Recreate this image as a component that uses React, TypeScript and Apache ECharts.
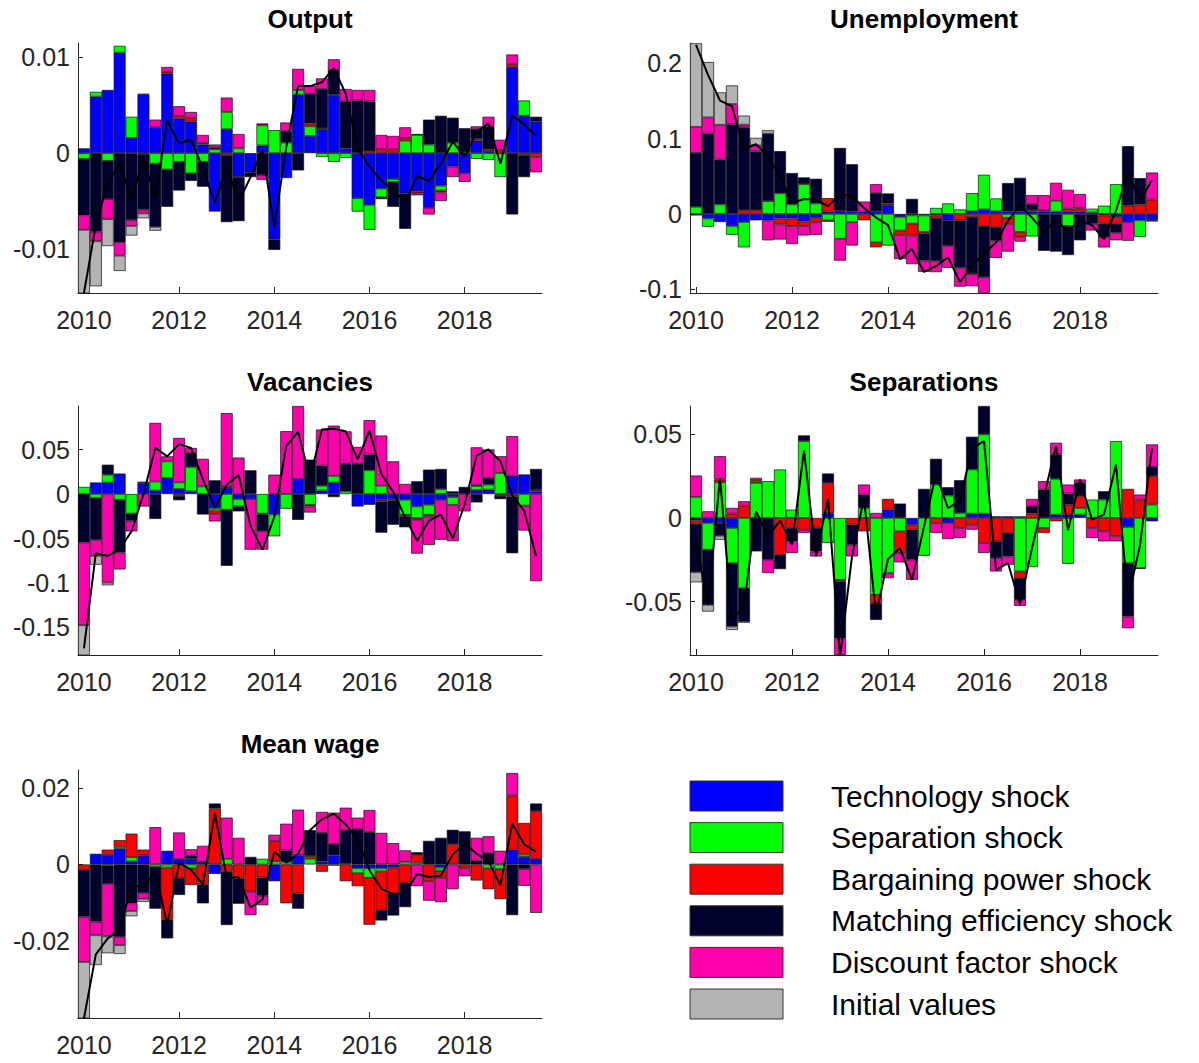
import React, { useEffect, useRef } from "react";
import * as echarts from "echarts";

const quarters: string[] = [
  "2010Q1", "2010Q2", "2010Q3", "2010Q4", "2011Q1", "2011Q2", "2011Q3", "2011Q4",
  "2012Q1", "2012Q2", "2012Q3", "2012Q4", "2013Q1", "2013Q2", "2013Q3", "2013Q4",
  "2014Q1", "2014Q2", "2014Q3", "2014Q4", "2015Q1", "2015Q2", "2015Q3", "2015Q4",
  "2016Q1", "2016Q2", "2016Q3", "2016Q4", "2017Q1", "2017Q2", "2017Q3", "2017Q4",
  "2018Q1", "2018Q2", "2018Q3", "2018Q4", "2019Q1", "2019Q2", "2019Q3",
];

const shockNames: string[] = [
  "Technology shock",
  "Separation shock",
  "Bargaining power shock",
  "Matching efficiency shock",
  "Discount factor shock",
  "Initial values",
];
const shockColors: string[] = ["#0000FF", "#00FF00", "#FF0000", "#01012E", "#FF00AA", "#B3B3B3"];

// ---------- Output ----------
const outputTech = [0.0005, 0.0059, 0.0066, 0.0105, 0.0016, 0.0061, 0.0027, 0.0083, 0.0036, 0.0033, 0.0009, -0.0061, 0.0025, -0.0025, -0.002, 0.0008, -0.009, -0.0026, 0.0061, 0.0018, 0.0025, 0.006, 0.0005, -0.0047, -0.0054, -0.0037, -0.0027, -0.0042, -0.004, -0.0057, -0.0034, -0.0014, -0.0021, 0.0013, 0.0002, 0, 0.009, 0.0039, 0.0033];
const outputSep = [-0.0006, 0.0005, -0.0008, 0.0007, 0.0022, 0.0001, -0.0011, -0.0017, -0.0009, -0.0021, -0.0009, 0.0004, 0.0018, 0.0005, 0, 0.0021, 0.0024, 0.0011, 0.0005, 0.001, -0.0004, -0.0009, -0.0005, -0.0014, -0.0026, -0.0009, -0.0003, 0.0013, 0.0019, 0.0009, -0.0005, 0.0011, 0.0001, -0.0006, -0.0007, -0.0025, 0, 0.0016, 0];
const outputBarg = [0, 0, 0, 0, 0, -0.0001, 0, 0.0002, 0.0003, 0.0004, 0.0002, 0, -0.0002, 0, 0, 0.0002, 0, 0, 0, 0.0003, 0.0001, 0.0001, 0, 0, 0.0002, 0.0004, 0.0004, 0.0003, -0.0002, 0, -0.0002, 0, 0, 0.0002, 0.0002, 0.0003, 0.0003, -0.0002, -0.0004];
const outputMatch = [-0.0059, -0.0082, -0.004, -0.0093, -0.007, -0.0058, -0.0066, -0.0039, -0.003, -0.0008, -0.0026, 0.0002, -0.007, -0.0046, -0.0005, -0.0023, -0.0011, 0.0012, -0.0018, 0.0031, 0.0041, 0.0026, 0.0049, 0.0055, 0.0052, -0.0002, -0.0026, -0.0037, 0.0001, 0.0026, 0.0039, 0.0026, 0.0025, 0.001, 0.0024, 0, -0.0064, -0.0023, 0.0005];
const outputDisc = [-0.0015, -0.001, -0.0021, -0.0014, -0.0006, -0.0004, 0.0008, 0.0005, 0.001, 0.0006, 0.0008, 0.0003, 0.0015, 0.0015, 0, -0.0005, 0, 0.0009, 0.0022, 0.0008, 0.0011, 0.0011, 0.0013, 0.0011, 0.0012, 0.0015, 0.0014, 0.0011, -0.0002, -0.0007, -0.0009, -0.0011, -0.0009, 0.0003, 0.001, 0.0011, 0.001, 0, -0.0016];
const outputInit = [-0.0071, -0.0047, -0.0028, -0.0016, -0.001, -0.0005, -0.0004, 0, 0, 0, 0, 0, 0, 0, 0, 0, 0, 0, 0, 0, 0, 0, 0, 0, 0, 0, 0, 0, 0, 0, 0, 0, 0, 0, 0, 0, 0, 0, 0];
const outputTicks = [-0.01, 0, 0.01];

// ---------- Unemployment ----------
const unempTech = [-0.002, -0.006, -0.0108, -0.016, -0.0108, -0.0085, -0.0085, -0.006, -0.006, -0.01, -0.005, 0.003, 0.0036, 0.003, 0.003, 0.0036, 0.0117, -0.004, -0.002, -0.002, -0.002, -0.0085, 0, 0.0036, 0.006, 0.0036, 0.003, 0.003, 0.003, 0.003, 0.003, 0.003, 0.003, 0.002, -0.002, -0.004, -0.011, -0.0085, -0.008];
const unempSep = [0.0094, -0.011, 0.0126, -0.0117, -0.0336, 0, 0.017, 0.0274, 0.0126, 0.0395, 0.014, -0.0085, -0.033, -0.011, 0, -0.0377, -0.042, -0.018, -0.011, -0.022, 0.008, 0.014, 0.006, 0.024, 0.046, 0.017, -0.005, -0.024, -0.03, 0, 0.0145, -0.016, 0, 0.005, 0.011, 0.0395, 0, -0.022, 0];
const unempBarg = [0, 0, 0, 0, 0.005, 0.005, 0, -0.008, -0.01, -0.006, -0.006, 0.018, 0.001, 0, -0.0085, -0.0067, 0.002, -0.006, -0.0157, -0.002, -0.0035, 0, -0.0085, -0.004, -0.016, -0.0175, -0.008, -0.0067, 0.002, 0.002, 0, 0.004, 0.0045, 0, -0.011, -0.009, 0.011, 0.0126, 0.019];
const unempMatch = [0.0717, 0.1067, 0.0596, 0.119, 0.11, 0.078, 0.0897, 0.056, 0.0417, 0.009, 0.0327, 0, 0.083, 0.063, 0, 0.024, 0.0135, 0, 0.02, -0.036, -0.057, -0.034, -0.063, -0.076, -0.068, -0.018, 0.038, 0.045, 0.008, -0.049, -0.05, -0.0386, -0.035, -0.013, -0.018, -0.012, 0.079, 0.035, -0.002];
const unempDisc = [0.0345, 0.0215, 0.0462, 0.027, 0.0036, 0.008, -0.0265, -0.02, -0.024, -0.0126, -0.017, -0.002, -0.029, -0.031, 0.0134, 0.012, 0, -0.032, -0.038, -0.015, -0.0148, -0.029, -0.025, -0.016, -0.021, -0.023, -0.037, -0.006, 0.012, 0.02, 0.0238, 0.025, 0.019, -0.009, -0.0135, -0.01, -0.0246, 0, 0.036];
const unempInit = [0.111, 0.0735, 0.043, 0.0247, 0.012, 0.01, 0.0045, 0, 0, 0, 0, 0, 0, 0, 0, 0, 0, 0, 0, 0, 0, 0, 0, 0, 0, 0, 0, 0, 0, 0, 0, 0, 0, 0, 0, 0, 0, 0, 0];
const unempTicks = [-0.1, 0, 0.1, 0.2];

// ---------- Vacancies ----------
const vacTech = [0, 0.013, 0.013, 0.023, 0, 0.0124, 0.004, 0.018, 0.0056, 0.003, 0, -0.0158, 0.007, -0.0056, -0.0056, 0, -0.023, 0, 0.017, 0, 0.004, 0.013, 0, -0.014, -0.012, -0.0064, -0.0056, -0.0064, -0.014, -0.012, -0.0064, -0.0034, 0, 0.0045, 0.005, 0, 0.0207, 0.022, 0.003];
const vacSep = [0.008, -0.0045, 0.0087, -0.0064, -0.022, 0, 0.01, 0.0188, 0.0075, 0.0274, 0.0086, -0.0026, -0.0177, -0.0083, 0, -0.022, -0.0245, -0.0165, 0, -0.012, 0.0053, 0.0075, 0.003, 0, 0.0267, 0.0094, 0, -0.017, -0.013, -0.0113, 0.0056, -0.0086, 0, 0.0045, 0.0056, 0.0237, 0, -0.013, 0];
const vacBarg = [0, 0, 0, 0, 0, 0.0015, 0, 0, -0.002, 0, 0, -0.0038, 0.002, 0, 0, -0.001, 0, 0, 0, -0.002, 0, 0, 0, 0, 0, -0.002, -0.0015, -0.002, -0.002, -0.002, 0, 0, 0, 0.0015, 0, -0.002, -0.0026, 0, 0.0015];
const vacMatch = [-0.0545, -0.047, 0.0113, -0.0594, -0.008, 0, -0.028, 0, -0.005, 0.0158, -0.023, 0.0154, -0.063, -0.0056, 0.0267, -0.0188, 0, 0, -0.029, 0.0387, 0.0226, -0.0034, 0.031, 0.034, 0.0177, -0.035, -0.0274, -0.012, 0.0143, 0.0274, 0.0226, 0.003, 0.008, -0.0094, 0.0075, -0.0037, -0.064, 0, 0.0237];
const vacDisc = [-0.093, -0.018, -0.0996, -0.019, -0.012, -0.014, 0.066, 0.0056, 0.05, 0.0056, 0.031, -0.0086, 0.082, 0.041, -0.057, -0.0207, 0.0218, 0.0707, 0.082, -0.0068, 0.0406, 0.0564, 0.0365, 0.019, 0.0387, 0.0564, 0.0368, 0.0113, -0.038, -0.032, -0.045, -0.041, -0.0195, 0.042, 0.032, 0.0188, 0.0444, -0.028, -0.098];
const vacInit = [-0.034, -0.01, -0.003, 0, 0, 0, 0, 0, 0, 0, 0, 0, 0, 0, 0, 0, 0, 0, 0, 0, 0, 0, 0, 0, 0, 0, 0, 0, 0, 0, 0, 0, 0, 0, 0, 0, 0, 0, 0];
const vacTicks = [-0.15, -0.1, -0.05, 0, 0.05];

// ---------- Separations ----------
const sepTech = [-0.0015, -0.003, -0.003, -0.006, 0, 0, 0, 0, 0, 0, 0, 0.003, 0, 0, 0, 0, 0.005, 0, -0.004, 0, 0, -0.003, 0, 0.0026, 0.0026, 0.001, 0.001, 0.001, 0, 0, 0.002, 0.002, 0.002, 0, 0, 0, -0.0054, 0, -0.002];
const sepSep = [0.0126, -0.016, 0.0214, -0.021, -0.042, 0.021, 0.022, 0.029, 0.005, 0.046, 0, -0.015, -0.037, 0, 0.006, -0.046, -0.033, -0.008, 0, -0.0226, 0.02, 0.0134, 0.003, 0.0264, 0.0474, 0, 0, -0.032, -0.0294, -0.006, 0.0214, -0.0274, 0.004, 0.011, 0.011, 0.046, -0.0216, -0.03, 0.008];
const sepBarg = [-0.002, 0, 0.0016, 0.0026, 0.0074, 0.0016, 0, -0.022, -0.006, -0.007, -0.006, 0.018, -0.001, -0.004, -0.008, -0.005, 0.0064, -0.013, -0.003, 0, -0.003, 0, -0.006, -0.004, -0.015, -0.014, -0.009, -0.004, 0.0026, -0.003, -0.002, 0.006, 0.007, -0.006, -0.008, -0.011, 0.0174, 0.011, 0.017];
const sepMatch = [-0.029, -0.033, -0.0076, -0.038, -0.02, -0.02, -0.025, -0.0086, -0.008, 0.0034, -0.014, 0.0056, -0.034, -0.012, 0.008, -0.01, 0, 0.0086, -0.018, 0.0174, 0.0154, 0.005, 0.0196, 0.0196, 0.017, -0.01, -0.014, -0.013, 0.0044, 0.017, 0.0146, 0.0066, 0.008, 0, 0.005, 0, -0.032, -0.0004, 0.0056];
const sepDisc = [0.0128, 0.004, 0.014, 0.0034, 0.0026, 0.0014, -0.008, 0, -0.007, -0.002, -0.003, 0, -0.011, -0.007, 0.006, 0.003, -0.003, -0.0056, -0.012, 0, -0.006, -0.0096, -0.006, -0.003, -0.006, -0.008, -0.005, -0.0036, 0.0044, 0.005, 0.007, 0.0054, 0.002, -0.006, -0.006, -0.003, -0.007, 0.003, 0.0134];
const sepInit = [-0.006, -0.004, -0.0024, -0.002, -0.0006, 0, 0, 0, 0, 0, 0, 0, 0, 0, 0, 0, 0, 0, 0, 0, 0, 0, 0, 0, 0, 0, 0, 0, 0, 0, 0, 0, 0, 0, 0, 0, 0, 0, 0];
const sepTicks = [-0.05, 0, 0.05];

// ---------- Mean wage ----------
const wageTech = [0, 0.0028, 0.0025, 0.0042, 0.0008, 0.0024, 0, 0.0036, 0.0014, 0.0015, 0.0007, -0.0025, 0, 0, 0, 0, -0.0044, 0, 0.0024, 0, 0.0008, 0.0024, 0.0003, -0.001, -0.001, -0.001, -0.0008, 0, 0, 0, -0.0008, 0, 0, 0, 0, 0, 0.0039, 0.002, 0.0015];
const wageSep = [0, 0, -0.0003, 0.0005, 0.0011, 0, -0.0006, -0.0008, 0, -0.001, 0, 0, 0.0015, 0, 0, 0.0015, 0.0008, 0.0007, 0, 0.0015, 0, -0.0003, 0, -0.0013, -0.0025, -0.0008, 0, 0.0007, 0.0005, 0, -0.0008, 0, 0, 0, -0.001, -0.0012, 0, 0.0006, 0];
const wageBarg = [-0.0014, 0, 0.0014, 0.0017, 0.0062, 0.0015, 0, -0.0137, -0.0036, -0.0044, -0.0053, 0.0147, -0.0019, -0.0037, -0.0071, -0.0034, 0.0053, -0.0102, -0.0076, 0.0007, -0.0019, 0, -0.0044, -0.0034, -0.0123, -0.0102, -0.0068, -0.0048, 0.002, -0.0044, -0.0019, 0.0053, -0.001, -0.0042, -0.0055, -0.0079, 0.0142, 0.0083, 0.0125];
const wageMatch = [-0.0123, -0.015, -0.0048, -0.019, -0.0102, -0.0075, -0.011, -0.0049, -0.0044, 0.0008, -0.0049, 0.0013, -0.014, -0.0066, 0.002, -0.0048, 0, 0.003, -0.004, 0.0068, 0.0075, 0.003, 0.0087, 0.0093, 0.0085, -0.0027, -0.0058, -0.0064, 0.0007, 0.0062, 0.007, 0.0038, 0.0087, 0.001, 0.003, 0, -0.0133, -0.0012, 0.002];
const wageDisc = [-0.0119, -0.0036, -0.0138, -0.0022, -0.002, -0.0015, 0.0098, 0, 0.007, 0.0017, 0.0042, 0, 0.0108, 0.007, -0.0062, -0.0025, 0.0017, 0.007, 0.012, 0, 0.0055, 0.0082, 0.0059, 0.003, 0.0058, 0.0083, 0.0056, 0.003, -0.0057, -0.0051, -0.0064, -0.0065, -0.0021, 0.006, 0.0044, 0.0036, 0.0059, -0.0044, -0.0127];
const wageInit = [-0.0148, -0.0078, -0.0044, -0.0023, -0.0014, -0.0008, 0, 0, 0, 0, 0, 0, 0, 0, 0, 0, 0, 0, 0, 0, 0, 0, 0, 0, 0, 0, 0, 0, 0, 0, 0, 0, 0, 0, 0, 0, 0, 0, 0];
const wageTicks = [-0.02, 0, 0.02];

const FONT = "'Liberation Sans', Arial, Helvetica, sans-serif";
const AXIS_COLOR = "#262626";

type Panel = {
  title: string;
  parts: number[][];
  min: number;
  max: number;
  ticks: number[];
  left: number;
  top: number;
  width: number;
  height: number;
  titleTop: number;
};

const panels: Panel[] = [
  { title: "Output", parts: [outputTech, outputSep, outputBarg, outputMatch, outputDisc, outputInit], min: -0.0146, max: 0.0115, ticks: outputTicks, left: 78, top: 43, width: 464, height: 250, titleTop: 6 },
  { title: "Unemployment", parts: [unempTech, unempSep, unempBarg, unempMatch, unempDisc, unempInit], min: -0.105, max: 0.227, ticks: unempTicks, left: 690, top: 43, width: 468, height: 250, titleTop: 6 },
  { title: "Vacancies", parts: [vacTech, vacSep, vacBarg, vacMatch, vacDisc, vacInit], min: -0.181, max: 0.099, ticks: vacTicks, left: 78, top: 406, width: 464, height: 249, titleTop: 369 },
  { title: "Separations", parts: [sepTech, sepSep, sepBarg, sepMatch, sepDisc, sepInit], min: -0.082, max: 0.067, ticks: sepTicks, left: 690, top: 406, width: 468, height: 249, titleTop: 369 },
  { title: "Mean wage", parts: [wageTech, wageSep, wageBarg, wageMatch, wageDisc, wageInit], min: -0.0403, max: 0.0248, ticks: wageTicks, left: 78, top: 770, width: 464, height: 248, titleTop: 731 },
];

function buildOption() {
  const grid: any[] = [];
  const xAxis: any[] = [];
  const yAxis: any[] = [];
  const series: any[] = [];
  const title: any[] = [];

  panels.forEach((p, k) => {
    grid.push({ left: p.left, top: p.top, width: p.width, height: p.height, containLabel: false });
    title.push({
      text: p.title,
      left: p.left + p.width / 2,
      top: p.titleTop,
      textAlign: "center",
      padding: 0,
      textStyle: { fontFamily: FONT, fontSize: 26, fontWeight: "bold", color: "#000" },
    });
    xAxis.push({
      type: "category",
      gridIndex: k,
      data: quarters,
      boundaryGap: true,
      axisLine: { show: true, onZero: false, lineStyle: { color: AXIS_COLOR, width: 1 } },
      axisTick: {
        show: true,
        inside: true,
        length: 6,
        alignWithLabel: true,
        interval: (i: number) => i % 8 === 0,
        lineStyle: { color: AXIS_COLOR },
      },
      axisLabel: {
        interval: (i: number) => i % 8 === 0,
        formatter: (v: string) => v.slice(0, 4),
        fontFamily: FONT,
        fontSize: 25,
        color: AXIS_COLOR,
        margin: 14,
      },
      splitLine: { show: false },
    });
    yAxis.push({
      type: "value",
      gridIndex: k,
      min: p.min,
      max: p.max,
      axisLine: { show: true, lineStyle: { color: AXIS_COLOR, width: 1 } },
      axisTick: { show: true, inside: true, length: 5, customValues: p.ticks, lineStyle: { color: AXIS_COLOR } },
      axisLabel: {
        customValues: p.ticks,
        formatter: (v: number) => String(v),
        fontFamily: FONT,
        fontSize: 25,
        color: AXIS_COLOR,
        margin: 8,
      },
      splitLine: { show: false },
    });
    p.parts.forEach((arr, j) => {
      series.push({
        type: "bar",
        name: shockNames[j],
        xAxisIndex: k,
        yAxisIndex: k,
        stack: "panel" + k,
        data: arr.map((v) => (v === 0 ? "-" : v)),
        barCategoryGap: "0%",
        itemStyle: { color: shockColors[j], borderColor: "#111111", borderWidth: 0.7 },
        silent: true,
        emphasis: { disabled: true },
        z: 2,
      });
    });
    const totals = quarters.map((_, i) => p.parts.reduce((s, arr) => s + arr[i], 0));
    series.push({
      type: "line",
      name: p.title + " total",
      xAxisIndex: k,
      yAxisIndex: k,
      data: totals,
      symbol: "none",
      lineStyle: { color: "#000000", width: 2 },
      silent: true,
      z: 5,
    });
  });

  const graphic: any[] = [];
  shockNames.forEach((name, j) => {
    const cy = 796 + 41.6 * j;
    graphic.push({
      type: "rect",
      shape: { x: 690, y: cy - 15, width: 93, height: 30 },
      style: { fill: shockColors[j], stroke: "#333333", lineWidth: 1 },
    });
    graphic.push({
      type: "text",
      x: 831,
      y: cy,
      style: {
        text: name,
        font: "30px " + FONT,
        fill: "#000000",
        textAlign: "left",
        textVerticalAlign: "middle",
        verticalAlign: "middle",
      },
    });
  });

  return {
    animation: false,
    backgroundColor: "#ffffff",
    textStyle: { fontFamily: FONT },
    title,
    grid,
    xAxis,
    yAxis,
    series,
    graphic,
  };
}

export default function App() {
  const ref = useRef<HTMLDivElement>(null);
  useEffect(() => {
    if (!ref.current) return;
    const chart = echarts.init(ref.current, undefined, { renderer: "svg" });
    chart.setOption(buildOption() as any);
    return () => chart.dispose();
  }, []);
  return (
    <div
      ref={ref}
      style={{ position: "absolute", left: 0, top: 0, width: 1199, height: 1063, background: "#fff" }}
    />
  );
}
